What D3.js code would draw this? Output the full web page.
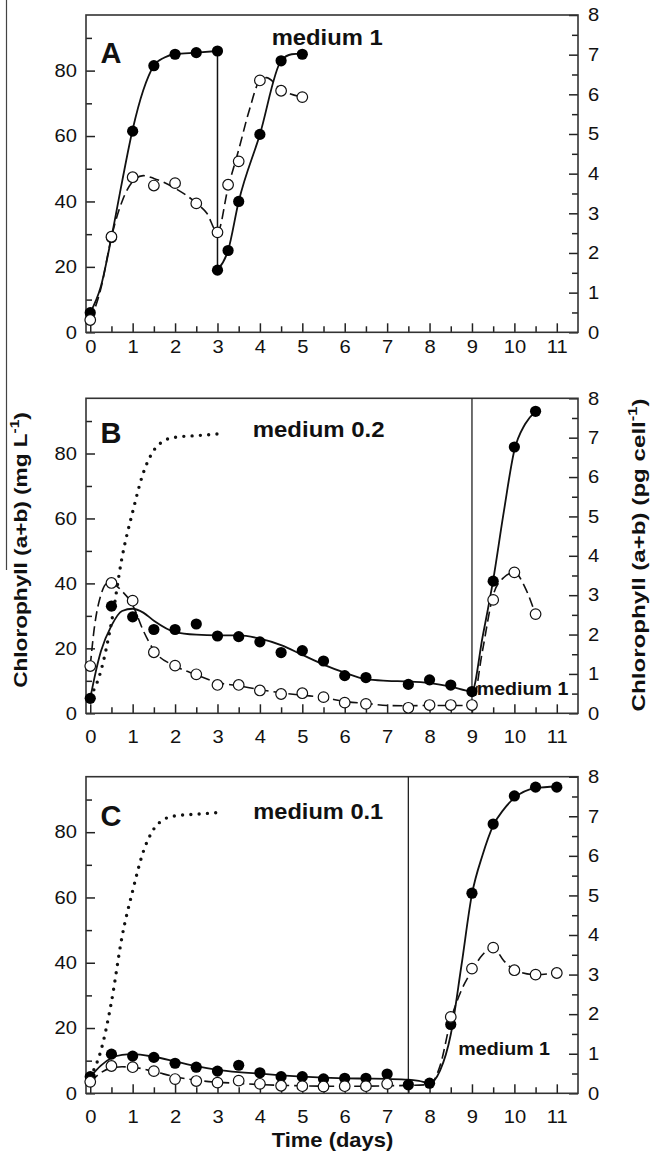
<!DOCTYPE html>
<html><head><meta charset="utf-8">
<script src="https://cdn.jsdelivr.net/npm/d3@7"></script>
<style>
body{margin:0;background:#fff}
svg text{font-family:"Liberation Sans",Arial,Helvetica,sans-serif;fill:#111}
</style>
</head><body>
<svg id="chart" width="652" height="1155"></svg>
<script>
// ---------------- DATA ----------------
const panelLetters = ["A", "B", "C"];
const mediumLabels = ["medium 1", "medium 0.2", "medium 0.1"];
const switchLabels = [null, "medium 1", "medium 1"];
const switchDays = [null, 9, 7.5];

const xTicks = [0,1,2,3,4,5,6,7,8,9,10,11];
const xMinorTicks = [0.5,1.5,2.5,3.5,4.5,5.5,6.5,7.5,8.5,9.5,10.5];
const yLeftTicks = [0,20,40,60,80];
const yLeftMinor = [10,30,50,70,90];
const yRightTicks = [0,1,2,3,4,5,6,7,8];
const yRightMinor = [0.5,1.5,2.5,3.5,4.5,5.5,6.5,7.5];

// Panel A (medium 1)
const aDays = [0,0.5,1,1.5,2,2.5,3,3,3.25,3.5,4,4.5,5];
const aChlPerL = [6,29,61.5,81.5,85,85.5,86,19,25,40,60.5,83,85];
const aDaysCell = [0,0.5,1,1.5,2,2.5,3,3.25,3.5,4,4.5,5];
const aChlPerCell = [0.31,2.41,3.91,3.70,3.76,3.25,2.52,3.72,4.31,6.35,6.09,5.93];
const aFitSolid1Days = [0,0.25,0.5,0.75,1,1.25,1.5,1.75,2,2.5,3];
const aFitSolid1 = [6,14,29,46,62,74,81.5,84,85,85.5,86];
const aFitSolid2Days = [3,3.25,3.5,4,4.5,4.75,5];
const aFitSolid2 = [19,25,40,60.5,83,85,85.2];
const aFitDashDays = [0,0.25,0.5,0.75,1,1.25,1.5,2,2.5,2.75,3,3.25,3.5,3.75,4,4.15,4.5,5];
const aFitDash = [0.3,1.1,2.4,3.3,3.8,3.95,3.88,3.63,3.26,3.0,2.52,3.65,4.6,5.6,6.35,6.42,6.12,5.93];

// Panel B (medium 0.2 -> medium 1 at day 9)
const bDays = [0,0.5,1,1.5,2,2.5,3,3.5,4,4.5,5,5.5,6,6.5,7.5,8,8.5,9,9.5,10,10.5];
const bChlPerL = [4.6,33,29.7,25.8,25.8,27.5,23.8,23.6,22,18.7,19.3,16.1,11.6,11,8.9,10.3,8.7,6.7,40.7,82,93];
const bChlPerCell = [1.2,3.31,2.86,1.55,1.21,0.99,0.72,0.72,0.58,0.49,0.51,0.41,0.27,0.24,0.14,0.21,0.21,0.21,2.88,3.58,2.52];
const bFitSolidDays = [0,0.1,0.25,0.5,0.75,1,1.25,1.5,2,2.5,3,3.5,4,4.5,5,5.5,6,6.5,7,7.5,8,8.5,9,9.25,9.5,9.75,10,10.25,10.5];
const bFitSolid = [4.6,11,19,27,31.5,32.2,31,28.5,25,24.2,24,24,23,21,18,15,12.5,10.5,10,9.8,9.3,8.2,6.8,23.5,41,62,81,89,93];
const bFitDashDays = [0,0.1,0.25,0.4,0.5,0.75,1,1.25,1.5,2,2.5,3,3.5,4,4.5,5,5.5,6,6.5,7,7.5,8,8.5,9,9.25,9.5,9.75,10,10.25,10.5];
const bFitDash = [1.2,2.2,3.0,3.3,3.3,3.1,2.75,2.1,1.6,1.2,0.98,0.78,0.7,0.6,0.52,0.46,0.4,0.3,0.25,0.2,0.19,0.2,0.2,0.2,1.6,3.0,3.45,3.58,3.2,2.5];

// Panel C (medium 0.1 -> medium 1 at day 7.5)
const cDays = [0,0.5,1,1.5,2,2.5,3,3.5,4,4.5,5,5.5,6,6.5,7,7.5,8,8.5,9,9.5,10,10.5,11];
const cChlPerL = [5.1,12,11.4,11,9.2,8,6.8,8.6,6.3,5.1,5.1,4.4,4.6,4.6,5.9,2.6,3.1,21.1,61.3,82.5,91.1,93.8,93.8];
const cChlPerCell = [0.29,0.69,0.66,0.56,0.36,0.31,0.27,0.32,0.24,0.19,0.18,0.17,0.18,0.18,0.24,null,null,1.93,3.15,3.68,3.11,3.0,3.04];
const cFitSolidDays = [0,0.25,0.5,0.75,1,1.5,2,2.5,3,3.5,4,4.5,5,5.5,6,6.5,7,7.5,7.75,8,8.25,8.5,8.75,9,9.25,9.5,9.75,10,10.5,11];
const cFitSolid = [5,8.5,10.8,11.8,12,11.2,9.8,8.3,7.2,6.5,6,5.5,5.1,4.8,4.6,4.5,4.4,4.2,3.8,3.1,7,18,39,61,73,82,87,90.5,93.5,94];
const cFitDashDays = [0,0.25,0.5,0.75,1,1.5,2,2.5,3,3.5,4,4.5,5,5.5,6,6.5,7,7.5,8,8.25,8.5,8.75,9,9.25,9.5,9.75,10,10.5,11];
const cFitDash = [0.29,0.52,0.64,0.67,0.66,0.55,0.42,0.33,0.28,0.25,0.22,0.2,0.19,0.18,0.18,0.18,0.19,0.2,0.22,0.7,1.85,2.6,3.1,3.5,3.68,3.35,3.12,3.0,3.04];

// Reference curve (medium 1 growth) shown dotted in B and C
const refDays = [0,0.25,0.5,0.75,1,1.25,1.5,1.75,2,2.5,3];
const refChl = [5,13,28,48,62,74,81,84,85,85.5,86];

// ---------------- LAYOUT ----------------
const svg = d3.select("#chart");
const x = d3.scaleLinear().domain([-0.1, 11.5]).range([86, 578]);
const layout = [
  {top:15,    bottom:332.3,  xPad:8,  letter:[100.5,62.7], med:[271.7,45,111],    med2:null},
  {top:398.3, bottom:713.3,  xPad:17, letter:[100.5,443],  med:[252.7,436.7,132], med2:[476.7,695,91.7]},
  {top:776.7, bottom:1093.3, xPad:17, letter:[100.5,825.5],med:[253.3,819.3,130], med2:[458.3,1055,91.7]}
];
const series = [
  {pts:[aDays,aChlPerL], open:[aDaysCell,aChlPerCell], solid:[[aFitSolid1Days,aFitSolid1],[aFitSolid2Days,aFitSolid2]], dash:[aFitDashDays,aFitDash], dotted:false},
  {pts:[bDays,bChlPerL], open:[bDays,bChlPerCell], solid:[[bFitSolidDays,bFitSolid]], dash:[bFitDashDays,bFitDash], dotted:true},
  {pts:[cDays,cChlPerL], open:[cDays,cChlPerCell], solid:[[cFitSolidDays,cFitSolid]], dash:[cFitDashDays,cFitDash], dotted:true}
];
const TICK_STRETCH = 1.12;
const ink = "#222";

function stretchTicks(g, fs) {
  g.selectAll("text").each(function(){
    const t = d3.select(this);
    const tx = +t.attr("x") || 0;
    t.attr("x", 0).attr("transform", `translate(${tx},0) scale(${TICK_STRETCH},1)`)
     .attr("font-size", fs).attr("fill", "#111");
  });
}
function styleAxis(g) {
  g.attr("font-family", null).attr("font-size", null);
  g.select(".domain").remove();
  g.selectAll("line").attr("stroke", ink).attr("stroke-width", 1.5);
}
function fitWidth(sel, target) {
  const w = sel.node().getComputedTextLength();
  return target / w;
}

layout.forEach((L, i) => {
  const yL = d3.scaleLinear().domain([0, 97]).range([L.bottom, L.top]);
  const yR = d3.scaleLinear().domain([0, 8]).range([L.bottom, L.top]);
  const g = svg.append("g");
  const S = series[i];

  // axes (ticks inward)
  const gx = g.append("g").attr("transform", `translate(0,${L.bottom})`)
    .call(d3.axisBottom(x).tickValues(xTicks).tickSizeInner(-9).tickSizeOuter(0).tickPadding(L.xPad).tickFormat(d3.format("d")));
  styleAxis(gx); stretchTicks(gx, 18);
  const gxm = g.append("g").attr("transform", `translate(0,${L.bottom})`)
    .call(d3.axisBottom(x).tickValues(xMinorTicks).tickSizeInner(-6).tickSizeOuter(0).tickFormat(""));
  styleAxis(gxm);

  const gl = g.append("g").attr("transform", `translate(${x.range()[0]},0)`)
    .call(d3.axisLeft(yL).tickValues(yLeftTicks).tickSizeInner(-9).tickSizeOuter(0).tickPadding(9));
  styleAxis(gl); stretchTicks(gl, 18);
  const glm = g.append("g").attr("transform", `translate(${x.range()[0]},0)`)
    .call(d3.axisLeft(yL).tickValues(yLeftMinor).tickSizeInner(-6).tickSizeOuter(0).tickFormat(""));
  styleAxis(glm);

  const gr = g.append("g").attr("transform", `translate(${x.range()[1]},0)`)
    .call(d3.axisRight(yR).tickValues(yRightTicks).tickSizeInner(-9).tickSizeOuter(0).tickPadding(10));
  styleAxis(gr); stretchTicks(gr, 18);
  const grm = g.append("g").attr("transform", `translate(${x.range()[1]},0)`)
    .call(d3.axisRight(yR).tickValues(yRightMinor).tickSizeInner(-6).tickSizeOuter(0).tickFormat(""));
  styleAxis(grm);

  // frame
  g.append("rect").attr("x", x.range()[0]).attr("y", L.top)
    .attr("width", x.range()[1] - x.range()[0]).attr("height", L.bottom - L.top)
    .attr("fill", "none").attr("stroke", "#333").attr("stroke-width", 1.6);

  // medium switch line
  if (switchDays[i] != null) {
    g.append("line").attr("x1", x(switchDays[i])).attr("x2", x(switchDays[i]))
      .attr("y1", L.top).attr("y2", L.bottom).attr("stroke", "#222").attr("stroke-width", 1.3);
  }

  const mk = (xs, ys, ysc) => d3.line().defined(d => d[1] != null)
      .x(d => x(d[0])).y(d => ysc(d[1])).curve(d3.curveMonotoneX)(d3.zip(xs, ys));

  // dotted reference
  if (S.dotted) {
    g.append("path").attr("d", mk(refDays, refChl, yL)).attr("fill", "none")
      .attr("stroke", "#111").attr("stroke-width", 3.4).attr("stroke-linecap", "round")
      .attr("stroke-dasharray", "0 8.3");
  }
  // solid fits
  S.solid.forEach(seg => {
    g.append("path").attr("d", mk(seg[0], seg[1], yL)).attr("fill", "none")
      .attr("stroke", "#111").attr("stroke-width", 1.8);
  });
  if (S.solid.length > 1) {
    const s1 = S.solid[0], s2 = S.solid[1];
    g.append("line").attr("x1", x(s1[0][s1[0].length-1])).attr("x2", x(s2[0][0]))
      .attr("y1", yL(s1[1][s1[1].length-1])).attr("y2", yL(s2[1][0]))
      .attr("stroke", "#111").attr("stroke-width", 1.5);
  }
  // dashed fit
  g.append("path").attr("d", mk(S.dash[0], S.dash[1], yR)).attr("fill", "none")
    .attr("stroke", "#111").attr("stroke-width", 1.6).attr("stroke-dasharray", "10 5");

  // filled points (mg/L)
  g.append("g").selectAll("circle").data(d3.zip(S.pts[0], S.pts[1])).join("circle")
    .attr("cx", d => x(d[0])).attr("cy", d => yL(d[1])).attr("r", 5.6).attr("fill", "#000");
  // open points (pg/cell)
  g.append("g").selectAll("circle").data(d3.zip(S.open[0], S.open[1]).filter(d => d[1] != null)).join("circle")
    .attr("cx", d => x(d[0])).attr("cy", d => yR(d[1])).attr("r", 5.3)
    .attr("fill", "#fff").attr("stroke", "#111").attr("stroke-width", 1.2);

  // panel letter
  g.append("text").attr("x", L.letter[0]).attr("y", L.letter[1])
    .attr("font-size", 29).attr("font-weight", "bold").text(panelLetters[i]);
  // medium label
  const m = g.append("text").attr("font-size", 22).attr("font-weight", "bold").text(mediumLabels[i]);
  m.attr("transform", `translate(${L.med[0]},${L.med[1]}) scale(${fitWidth(m, L.med[2])},1)`);
  if (switchLabels[i]) {
    const m2 = g.append("text").attr("font-size", 18.5).attr("font-weight", "bold").text(switchLabels[i]);
    m2.attr("transform", `translate(${L.med2[0]},${L.med2[1]}) scale(${fitWidth(m2, L.med2[2])},1)`);
  }
});

// axis titles
function title(parts, tx, ty, rot, target, fs) {
  const t = svg.append("text").attr("font-size", fs).attr("font-weight", "bold").attr("text-anchor", "middle");
  parts.forEach(p => {
    const ts = t.append("tspan").text(p.t);
    if (p.sup) ts.attr("font-size", fs * 0.68).attr("dy", -fs * 0.42);
    if (p.down) ts.attr("dy", fs * 0.42);
  });
  const s = fitWidth(t, target);
  t.attr("transform", `translate(${tx},${ty}) rotate(${rot}) scale(${s},1)`);
}
title([{t:"Chlorophyll (a+b) (mg L"},{t:"-1",sup:true},{t:")",down:true}], 26.7, 550, -90, 276, 18.5);
title([{t:"Chlorophyll (a+b) (pg cell"},{t:"-1",sup:true},{t:")",down:true}], 645, 555, -90, 313, 18.5);
title([{t:"Time (days)"}], 332.5, 1147.3, 0, 121.7, 19.5);

// scan edge line at left
svg.append("line").attr("x1", 6.5).attr("x2", 6.5).attr("y1", 0).attr("y2", 570)
  .attr("stroke", "#444").attr("stroke-width", 1.2);
</script>
</body></html>
